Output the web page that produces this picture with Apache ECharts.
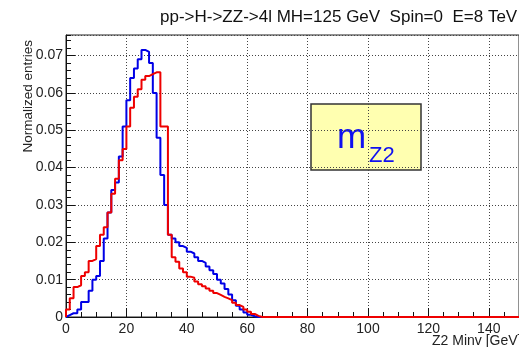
<!DOCTYPE html>
<html><head><meta charset="utf-8">
<script src="https://cdn.jsdelivr.net/npm/echarts@6/dist/echarts.min.js"></script>
<style>html,body{margin:0;padding:0;background:#fff}#c{width:519px;height:347px}</style>
</head><body><div id="c"></div>
<script>
// Histogram: 0..150 GeV, bin width 1.25 GeV (values for bins from 0 upward; remaining bins are 0)
const binWidth = 1.25;
const nBins = 120;
const xTicks = [0, 20, 40, 60, 80, 100, 120, 140];
const yTicks = [0, 0.01, 0.02, 0.03, 0.04, 0.05, 0.06, 0.07];
const blueValues = [
  0.0005, 0.001, 0.001, 0.002, 0.004, 0.004, 0.007, 0.010, 0.011, 0.015,
  0.021, 0.028, 0.034, 0.036, 0.043, 0.051, 0.058, 0.064, 0.0665, 0.069,
  0.0715, 0.071, 0.068, 0.060, 0.048, 0.038, 0.030, 0.022, 0.021, 0.020,
  0.019, 0.0185, 0.0175, 0.017, 0.016, 0.015, 0.0145, 0.0135, 0.0125, 0.0115,
  0.010, 0.009, 0.0075, 0.006, 0.0045, 0.003, 0.002, 0.0012, 0.0006, 0.0002
];
const redValues = [
  0.002, 0.005, 0.008, 0.0085, 0.011, 0.012, 0.015, 0.0155, 0.019, 0.022,
  0.024, 0.028, 0.033, 0.037, 0.042, 0.045, 0.051, 0.056, 0.059, 0.061,
  0.0635, 0.0645, 0.065, 0.0655, 0.0655, 0.051, 0.051, 0.022, 0.016, 0.0148,
  0.013, 0.012, 0.0108, 0.0105, 0.0095, 0.0088, 0.0082, 0.0076, 0.007, 0.0064,
  0.0059, 0.0054, 0.005, 0.0045, 0.0038, 0.0032, 0.0027, 0.002, 0.0014, 0.0008,
  0.0003
];
const titleText = 'pp->H->ZZ->4l MH=125 GeV  Spin=0  E=8 TeV';

function steps(vals) {
  const full = vals.slice();
  while (full.length < nBins) full.push(0);
  const pts = [[0, 0]];
  full.forEach((v, i) => pts.push([i * binWidth, v]));
  pts.push([nBins * binWidth, full[full.length - 1]]);
  return pts;
}

const chart = echarts.init(document.getElementById('c'));
const font = 'Liberation Sans, Arial, sans-serif';
const gridLine = { show: true, lineStyle: { color: '#444', width: 1, type: [1, 2] } };
chart.setOption({
  animation: false,
  backgroundColor: '#fff',
  title: { text: titleText, left: 155, top: 4,
    textStyle: { fontSize: 17, fontWeight: 'normal', fontFamily: font, color: '#111' } },
  grid: { left: 66, right: -3, top: 35, bottom: 30, show: true, borderColor: '#222', borderWidth: 1, backgroundColor: 'transparent' },
  xAxis: [{
    type: 'value', min: 0, max: 150, interval: 20,
    axisLine: { onZero: false, lineStyle: { color: '#111', width: 1 } },
    axisTick: { inside: true, length: 9, lineStyle: { color: '#111' } },
    splitLine: gridLine,
    axisLabel: { fontSize: 14, fontFamily: font, color: '#222', margin: 5, showMaxLabel: false,
      formatter: v => (xTicks.indexOf(v) >= 0 ? String(v) : '') }
  }, {
    type: 'value', min: 0, max: 150, interval: 5, position: 'bottom',
    axisLine: { show: false }, splitLine: { show: false }, axisLabel: { show: false },
    axisTick: { inside: true, length: 5, lineStyle: { color: '#111' } }
  }],
  yAxis: [{
    type: 'value', min: 0, max: 0.0755, interval: 0.01,
    axisLine: { show: true, onZero: false, lineStyle: { color: '#111', width: 1 } },
    axisTick: { show: true, inside: true, length: 9, lineStyle: { color: '#111' } },
    splitLine: gridLine,
    axisLabel: { fontSize: 14, fontFamily: font, color: '#222', margin: 3, showMaxLabel: false,
      formatter: v => { const k = yTicks.findIndex(t => Math.abs(t - v) < 1e-9); return k < 0 ? '' : (v === 0 ? '0' : v.toFixed(2)); } }
  }, {
    type: 'value', min: 0, max: 0.0755, interval: 0.002, position: 'left',
    axisLine: { show: false }, splitLine: { show: false }, axisLabel: { show: false },
    axisTick: { show: true, inside: true, length: 5, lineStyle: { color: '#111' } }
  }],
  series: [
    { type: 'line', step: 'end', data: steps(blueValues), showSymbol: false, clip: false,
      lineStyle: { color: '#0000e6', width: 2 }, itemStyle: { color: '#0000e6' } },
    { type: 'line', step: 'end', data: steps(redValues), showSymbol: false, clip: false,
      lineStyle: { color: '#ee0000', width: 2 }, itemStyle: { color: '#ee0000' } }
  ],
  graphic: [
    { type: 'text', x: 28, y: 40, rotation: Math.PI / 2,
      style: { text: 'Normalized entries', fontSize: 13.5, fontFamily: font, fill: '#222', textAlign: 'right', verticalAlign: 'middle' } },
    { type: 'text', x: 432, y: 341,
      style: { text: 'Z2 Minv [GeV]', fontSize: 14, fontFamily: font, fill: '#222', textAlign: 'left', verticalAlign: 'middle' } },
    { type: 'rect', shape: { x: 311, y: 104, width: 110, height: 66 },
      style: { fill: '#ffffb0', stroke: '#333', lineWidth: 1.5 } },
    { type: 'text', x: 337, y: 138,
      style: { text: 'm', fontSize: 35, fontFamily: font, fill: '#1010f0', textAlign: 'left', verticalAlign: 'middle' } },
    { type: 'text', x: 369, y: 156,
      style: { text: 'Z2', fontSize: 22, fontFamily: font, fill: '#1010f0', textAlign: 'left', verticalAlign: 'middle' } }
  ]
});
</script></body></html>
